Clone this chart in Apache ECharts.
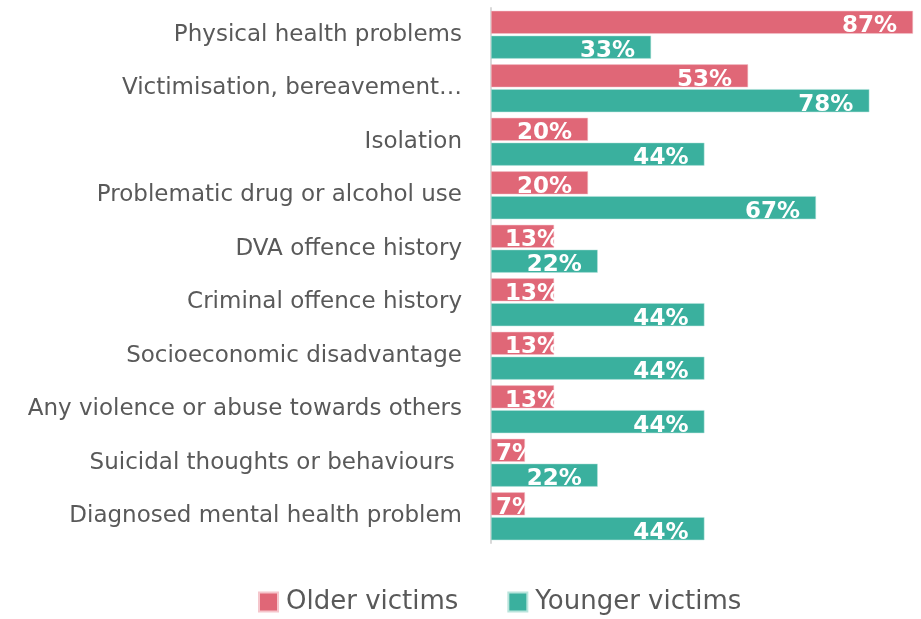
<!DOCTYPE html>
<html><head><meta charset="utf-8">
<script src="https://cdn.jsdelivr.net/npm/echarts@6/dist/echarts.min.js"></script>
<style>html,body{margin:0;padding:0;background:#fff}#c{width:921px;height:619px}</style>
</head><body><div id="c"></div>
<script>
const categories = ["Physical health problems","Victimisation, bereavement…","Isolation","Problematic drug or alcohol use","DVA offence history","Criminal offence history","Socioeconomic disadvantage","Any violence or abuse towards others","Suicidal thoughts or behaviours ","Diagnosed mental health problem"];
const olderVictims = [87,53,20,20,13,13,13,13,7,7];
const youngerVictims = [33,78,44,67,22,44,44,44,22,44];
const seriesNames = ["Older victims","Younger victims"];

const FONT = "DejaVu Sans";
function mk(vals){
  return vals.map(v=>{
    if (v < 10) return {value:v,label:{position:'insideLeft',distance:5}};
    if (v < 15) return {value:v,label:{position:'insideLeft',distance:14}};
    return v;
  });
}
const chart = echarts.init(document.getElementById('c'));
const lbl = {show:true,position:'insideRight',distance:16,color:'#fff',fontFamily:FONT,fontWeight:'bold',fontSize:23,offset:[0,4],formatter:p=>p.value+'%'};
chart.setOption({
  animation:false,
  grid:{left:491,right:8,top:8,height:535,containLabel:false},
  xAxis:{type:'value',min:0,max:87,show:false},
  yAxis:{type:'category',data:categories,inverse:true,
    axisLine:{show:true,lineStyle:{color:'#d9d9d9',width:2}},axisTick:{show:false},
    axisLabel:{color:'#595959',fontFamily:FONT,fontSize:23,margin:29}},
  legend:{left:253,top:584,itemWidth:19,itemHeight:19,itemGap:49,icon:'rect',
    textStyle:{color:'#595959',fontFamily:FONT,fontSize:26,padding:[0,0,0,3]}},
  series:[
    {name:seriesNames[0],type:'bar',data:mk(olderVictims),barWidth:23,barGap:'8%',
     itemStyle:{color:'#E06777',borderColor:'#f5c6cc',borderWidth:0.5},label:lbl},
    {name:seriesNames[1],type:'bar',data:mk(youngerVictims),barWidth:23,barGap:'8%',
     itemStyle:{color:'#3AB09E',borderColor:'#b9e4dc',borderWidth:0.5},label:lbl}
  ]
});
</script></body></html>
